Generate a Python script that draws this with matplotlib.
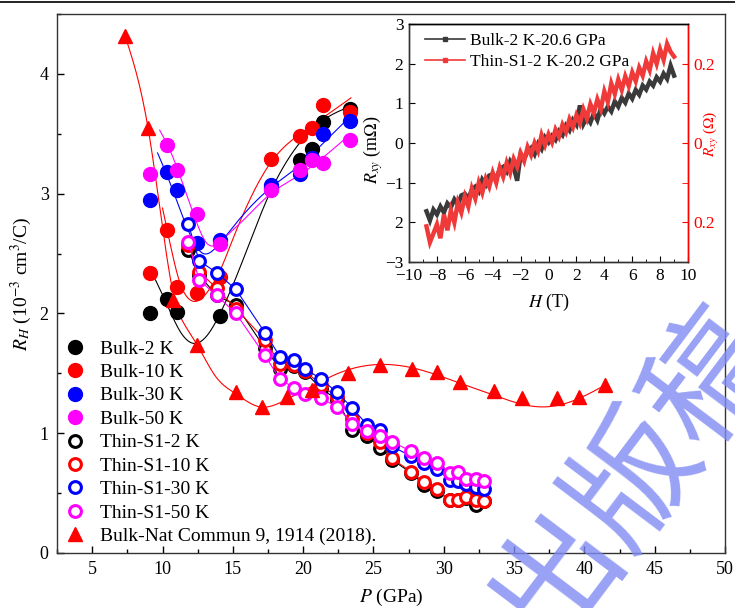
"""
Hall coefficient R_H vs pressure, bulk and thin-flake samples,
with an inset of the raw R_xy(H) traces near 20 GPa.
"""

import numpy as np
import matplotlib
matplotlib.use("Agg")
import matplotlib.pyplot as plt
from matplotlib.lines import Line2D
from matplotlib.ticker import MultipleLocator, FixedLocator, FixedFormatter

# ── 0. DATA ──────────────────────────────────────────────────────────────────
# bulk samples (filled circles)
bulk2_p = [9.1, 10.3, 11.0, 14.1, 17.7, 19.8, 20.6, 21.4, 23.3]
bulk2_r = [2.00, 2.12, 2.01, 1.98, 3.05, 3.28, 3.37, 3.60, 3.71]
bulk_p = [9.1, 10.3, 11.0, 12.45, 14.1, 17.7, 19.8, 20.6, 21.4, 23.3]
bulk10_r = [2.34, 2.70, 2.22, 2.17, 2.30, 3.29, 3.48, 3.55, 3.74, 3.68]
bulk30_r = [2.95, 3.18, 3.03, 2.59, 2.61, 3.07, 3.16, 3.30, 3.50, 3.61]
bulk50_r = [3.16, 3.41, 3.20, 2.83, 2.58, 3.03, 3.20, 3.28, 3.26, 3.45]

# thin flake S1 (open circles)
thin_p = [11.83, 12.6, 13.85, 15.22, 17.28, 18.35, 19.35, 20.13, 21.3, 22.42, 23.5,
          24.55, 25.46, 26.3, 27.66, 28.6, 29.5, 30.43, 30.98, 31.57, 32.26, 32.85]
thin2_r = [2.53, 2.32, 2.15, 2.07, 1.71, 1.54, 1.56, 1.51, 1.37, 1.28, 1.03,
           0.98, 0.88, 0.78, 0.67, 0.57, 0.52, 0.44, 0.44, 0.46, 0.40, 0.43]
thin10_r = [2.57, 2.35, 2.21, 2.04, 1.78, 1.58, 1.57, 1.52, 1.40, 1.30, 1.12,
            1.00, 0.93, 0.79, 0.68, 0.59, 0.53, 0.44, 0.44, 0.465, 0.44, 0.43]
thin30_r = [2.75, 2.44, 2.34, 2.20, 1.84, 1.64, 1.61, 1.54, 1.45, 1.34, 1.21,
            1.07, 1.03, 0.89, 0.81, 0.75, 0.70, 0.61, 0.60, 0.58, 0.555, 0.53]
thin50_r = [2.60, 2.28, 2.15, 2.00, 1.65, 1.45, 1.38, 1.33, 1.29, 1.22, 1.08,
            1.02, 0.98, 0.93, 0.85, 0.79, 0.755, 0.67, 0.68, 0.62, 0.62, 0.60]

# literature data, Nat Commun 9, 1914 (2018)
nat_p = [7.33, 8.97, 10.74, 12.45, 15.2, 17.07, 18.85, 20.6, 23.2, 25.46,
         27.73, 29.5, 31.14, 33.56, 35.55, 38.04, 39.6, 41.45]
nat_r = [4.32, 3.55, 2.11, 1.74, 1.34, 1.22, 1.30, 1.36, 1.50, 1.57,
         1.54, 1.51, 1.43, 1.35, 1.29, 1.29, 1.30, 1.40]

# guide-to-the-eye curves (knots)
fit2_p = [9.5, 10.3, 11.2, 12.2, 13.2, 14.1, 15.5, 17.5, 19.8, 21.5, 23.4]
fit2_r = [2.28, 2.08, 1.86, 1.75, 1.82, 2.00, 2.38, 2.97, 3.43, 3.62, 3.73]
fit10_p = [10.0, 10.6, 11.2, 11.8, 12.3, 13.2, 14.1, 15.0, 16.5, 17.7, 19.8, 21.5, 23.4]
fit10_r = [2.88, 2.55, 2.27, 2.13, 2.10, 2.18, 2.36, 2.62, 3.02, 3.26, 3.50, 3.64, 3.80]
fit30_p = [9.65, 10.5, 11.3, 12.2, 12.9, 13.8, 15.0, 17.7, 19.8, 21.5, 23.4]
fit30_r = [3.34, 3.10, 2.85, 2.60, 2.50, 2.55, 2.72, 3.05, 3.24, 3.43, 3.65]
fit50_p = [9.8, 10.5, 11.3, 12.3, 13.2, 14.3, 15.5, 17.7, 19.8, 21.5, 23.4]
fit50_r = [3.53, 3.37, 3.13, 2.80, 2.58, 2.62, 2.75, 3.00, 3.16, 3.31, 3.50]
fitnat_p = [7.33, 8.97, 10.0, 10.8, 11.6, 12.45, 13.8, 15.2, 16.9, 18.8, 20.6,
            22.5, 24.9, 27.6, 31.1, 33.5, 36.8, 38.7, 41.45]
fitnat_r = [4.32, 3.55, 2.72, 2.15, 1.90, 1.74, 1.47, 1.33, 1.22, 1.28, 1.39,
            1.50, 1.57, 1.55, 1.42, 1.32, 1.22, 1.25, 1.40]

# inset: R_xy(H)
h_field = [-8.75, -8.5, -8.25, -8.0, -7.75, -7.5, -7.25, -7.0, -6.75, -6.5, -6.25, -6.0,
           -5.75, -5.5, -5.25, -5.0, -4.75, -4.5, -4.25, -4.0, -3.75, -3.5, -3.25, -3.0,
           -2.75, -2.5, -2.25, -2.0, -1.75, -1.5, -1.25, -1.0, -0.75, -0.5, -0.25, 0.0,
           0.25, 0.5, 0.75, 1.0, 1.25, 1.5, 1.75, 2.0, 2.25, 2.5, 2.75, 3.0,
           3.25, 3.5, 3.75, 4.0, 4.25, 4.5, 4.75, 5.0, 5.25, 5.5, 5.75, 6.0,
           6.25, 6.5, 6.75, 7.0, 7.25, 7.5, 7.75, 8.0, 8.25, 8.5, 8.75, 9.0]
rxy_bulk = [-1.72, -1.95, -1.68, -1.80, -1.60, -1.75, -1.52, -1.62, -1.42, -1.55, -1.32, -1.28,
            -1.40, -1.18, -1.10, -1.22, -0.92, -1.05, -0.82, -0.78, -0.90, -0.66, -0.60, -0.72,
            -0.46, -0.60, -0.95, -0.28, -0.40, -0.20, -0.12, -0.28, -0.02, -0.15, 0.14, 0.02,
            0.18, 0.08, 0.30, 0.20, 0.44, 0.32, 0.58, 0.46, 0.95, 0.48, 0.65, 0.52,
            0.75, 0.58, 0.88, 0.75, 0.92, 0.80, 1.05, 0.92, 1.14, 1.02, 1.25, 1.12,
            1.34, 1.22, 1.45, 1.35, 1.55, 1.45, 1.66, 1.55, 1.75, 1.62, 1.95, 1.70]
rxy_thin = [-0.210, -0.250, -0.228, -0.205, -0.240, -0.180, -0.220, -0.170, -0.200, -0.150, -0.175, -0.135,
            -0.160, -0.115, -0.140, -0.100, -0.125, -0.090, -0.110, -0.075, -0.100, -0.062, -0.085, -0.050,
            -0.075, -0.040, -0.060, -0.025, -0.045, -0.010, -0.030, 0.000, -0.020, 0.020, -0.005, 0.022,
            0.002, 0.034, 0.016, 0.046, 0.028, 0.060, 0.040, 0.070, 0.050, 0.085, 0.062, 0.098,
            0.076, 0.110, 0.086, 0.130, 0.104, 0.150, 0.124, 0.160, 0.134, 0.168, 0.144, 0.178,
            0.156, 0.190, 0.170, 0.206, 0.184, 0.226, 0.200, 0.236, 0.210, 0.250, 0.230, 0.218]

# ── 1. STYLE ─────────────────────────────────────────────────────────────────
COLORS = {
    "black": "#000000",
    "red": "#ff0000",
    "blue": "#0000ff",
    "pink": "#ff00ff",
}

plt.rcParams.update({
    "font.family": ["Liberation Serif", "DejaVu Serif"],
    "mathtext.fontset": "stix",
    "font.size": 13,
    "xtick.direction": "in",
    "ytick.direction": "in",
    "axes.linewidth": 1.0,
    "axes.edgecolor": "#333333",
})


def smooth(xk, yk, n=300):
    """natural cubic spline through the knots, for the guide lines"""
    xk = np.asarray(xk, float)
    yk = np.asarray(yk, float)
    k = len(xk)
    h = np.diff(xk)
    A = np.zeros((k, k))
    b = np.zeros(k)
    A[0, 0] = A[-1, -1] = 1.0
    for i in range(1, k - 1):
        A[i, i - 1] = h[i - 1]
        A[i, i] = 2 * (h[i - 1] + h[i])
        A[i, i + 1] = h[i]
        b[i] = 6 * ((yk[i + 1] - yk[i]) / h[i] - (yk[i] - yk[i - 1]) / h[i - 1])
    M = np.linalg.solve(A, b)
    xs = np.linspace(xk[0], xk[-1], n)
    idx = np.clip(np.searchsorted(xk, xs) - 1, 0, k - 2)
    x0, x1 = xk[idx], xk[idx + 1]
    hh = x1 - x0
    ys = (M[idx] * (x1 - xs) ** 3 / (6 * hh) + M[idx + 1] * (xs - x0) ** 3 / (6 * hh)
          + (yk[idx] / hh - M[idx] * hh / 6) * (x1 - xs)
          + (yk[idx + 1] / hh - M[idx + 1] * hh / 6) * (xs - x0))
    return xs, ys


# ── 2. MAIN PANEL ────────────────────────────────────────────────────────────
fig = plt.figure(figsize=(7.35, 6.08), dpi=100)
ax = fig.add_axes([0.0776, 0.0905, 0.9088, 0.8865])

# guide lines
for kp, kr, c in [(fitnat_p, fitnat_r, COLORS["red"]),
                  (fit2_p, fit2_r, COLORS["black"]),
                  (fit10_p, fit10_r, COLORS["red"]),
                  (fit30_p, fit30_r, COLORS["blue"]),
                  (fit50_p, fit50_r, COLORS["pink"])]:
    xs, ys = smooth(kp, kr)
    ax.plot(xs, ys, color=c, lw=0.8, zorder=2)

# bulk points
ax.plot(bulk2_p, bulk2_r, "o", ms=10, color=COLORS["black"], label="Bulk-2 K", zorder=3)
ax.plot(bulk_p, bulk10_r, "o", ms=10, color=COLORS["red"], label="Bulk-10 K", zorder=3)
ax.plot(bulk_p, bulk30_r, "o", ms=10, color=COLORS["blue"], label="Bulk-30 K", zorder=3)
ax.plot(bulk_p, bulk50_r, "o", ms=10, color=COLORS["pink"], label="Bulk-50 K", zorder=3)

# thin flake, connected by straight segments
for r, c, lab in [(thin2_r, "black", "Thin-S1-2 K"),
                  (thin10_r, "red", "Thin-S1-10 K"),
                  (thin30_r, "blue", "Thin-S1-30 K"),
                  (thin50_r, "pink", "Thin-S1-50 K")]:
    ax.plot(thin_p, r, "-", color=COLORS[c], lw=0.8, zorder=4)
    ax.plot(thin_p, r, "o", ls="none", ms=8.5, mew=2.2, mfc="white",
            mec=COLORS[c], label=lab, zorder=4)

ax.plot(nat_p, nat_r, "^", ls="none", ms=10.5, color=COLORS["red"],
        label="Bulk-Nat Commun 9, 1914 (2018).", zorder=5)

ax.set_xlim(2.5, 50)
ax.set_ylim(0, 4.5)
ax.xaxis.set_major_locator(MultipleLocator(5))
ax.xaxis.set_minor_locator(MultipleLocator(2.5))
ax.yaxis.set_major_locator(MultipleLocator(1))
ax.yaxis.set_minor_locator(MultipleLocator(0.5))
ax.tick_params(which="major", length=5, width=1, labelsize=13, pad=6)
ax.tick_params(which="minor", length=3, width=1)
ax.set_xlabel(r"$P$ (GPa)", fontsize=14, labelpad=6)
ax.set_ylabel(r"$R_H$ (10$^{-3}$ cm$^3$/C)", fontsize=14, labelpad=4)

ax.legend(loc="lower left", bbox_to_anchor=(0.0, 0.0), borderaxespad=0.0,
          frameon=False, fontsize=14, handlelength=1.0, handletextpad=0.8,
          labelspacing=0.3, borderpad=0.4)

# ── 3. INSET ─────────────────────────────────────────────────────────────────
ax_in = fig.add_axes([0.5565, 0.569, 0.3796, 0.3914])
ax_in.plot(h_field, rxy_bulk, color="#3a3a3a", lw=3.2, solid_joinstyle="miter")
ax_in.set_xlim(-10, 10)
ax_in.set_ylim(-3, 3)
ax_in.xaxis.set_major_locator(MultipleLocator(2))
ax_in.xaxis.set_minor_locator(MultipleLocator(1))
ax_in.yaxis.set_major_locator(FixedLocator([-3, -2, -1, 0, 1, 2, 3]))
ax_in.yaxis.set_major_formatter(FixedFormatter(["\u22123", "2", "\u22121", "0", "1", "2", "3"]))
ax_in.tick_params(which="major", length=4, labelsize=12.5, pad=4)
ax_in.tick_params(which="minor", length=2)
ax_in.spines["top"].set_color("black")
ax_in.set_xlabel(r"$H$ (T)", fontsize=13, labelpad=6)
ax_in.set_ylabel(r"$R_{xy}$ (m$\Omega$)", fontsize=13)
ax_in.yaxis.set_label_coords(-0.085, 0.47)

ax_r = ax_in.twinx()
ax_r.plot(h_field, rxy_thin, color="#f03a3a", lw=3.2, solid_joinstyle="miter")
ax_r.set_ylim(-0.3, 0.3)
ax_r.yaxis.set_major_locator(FixedLocator([-0.2, 0.0, 0.2]))
ax_r.yaxis.set_major_formatter(FixedFormatter(["0.2", "0", "0.2"]))
ax_r.yaxis.set_minor_locator(FixedLocator([-0.1, 0.1]))
ax_r.tick_params(axis="y", which="both", colors="red", labelsize=12.5, pad=4)
ax_r.tick_params(axis="y", which="major", length=4)
ax_r.tick_params(axis="y", which="minor", length=4)
ax_r.spines["right"].set_color("red")
ax_r.spines["top"].set_color("black")
ax_r.set_ylabel(r"$R_{xy}$ ($\Omega$)", fontsize=11, color="red")
ax_r.yaxis.set_label_coords(1.05, 0.54)

leg_handles = [
    Line2D([], [], color="#3a3a3a", lw=1.2, marker="s", ms=2.5),
    Line2D([], [], color="#f03a3a", lw=1.2, marker="s", ms=2.5),
]
ax_r.legend(leg_handles, ["Bulk-2 K-20.6 GPa", "Thin-S1-2 K-20.2 GPa"],
            loc="upper left", bbox_to_anchor=(0.0, 1.03), frameon=False,
            fontsize=12.5, handlelength=2.35, handletextpad=0.25,
            labelspacing=0.3, borderpad=0.4)

# ── 4. WATERMARK / BORDER ────────────────────────────────────────────────────
fig.text(0.862, 0.222, "出版稿", fontsize=92, rotation=53, color="#7f8af2",
         alpha=0.8, family=["Noto Sans CJK SC", "DejaVu Sans"],
         ha="center", va="center", rotation_mode="anchor", zorder=20)
fig.add_artist(Line2D([0, 1], [0.997, 0.997], color="black", lw=1.2,
                      transform=fig.transFigure))

fig.savefig("out.png", dpi=100)
plt.close(fig)
